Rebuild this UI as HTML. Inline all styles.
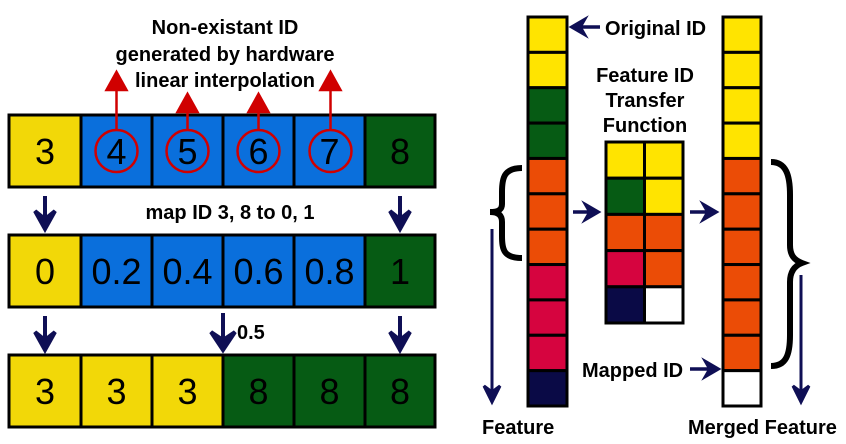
<!DOCTYPE html>
<html><head><meta charset="utf-8"><style>
html,body{margin:0;padding:0;background:#fff;width:846px;height:444px;overflow:hidden}
svg{display:block;font-family:"Liberation Sans",sans-serif}
.lbl{font-weight:bold;font-size:20px;fill:#000}
.num{font-size:36px;fill:#000}
</style></head><body>
<svg width="846" height="444" viewBox="0 0 846 444">
<g id="left"></g>
<g id="right"></g>
<g>
<text class="lbl" x="225" y="34" text-anchor="middle">Non-existant ID</text>
<text class="lbl" x="225" y="61" text-anchor="middle">generated by hardware</text>
<text class="lbl" x="225" y="87" text-anchor="middle">linear interpolation</text>
</g>
<text class="lbl" x="230" y="219" text-anchor="middle">map ID 3, 8 to 0, 1</text>
<text class="lbl" x="237" y="339">0.5</text>
<text class="lbl" x="605" y="35">Original ID</text>
<g>
<text class="lbl" x="645" y="82" text-anchor="middle">Feature ID</text>
<text class="lbl" x="645" y="107" text-anchor="middle">Transfer</text>
<text class="lbl" x="645" y="132" text-anchor="middle">Function</text>
</g>
<text class="lbl" x="582" y="377">Mapped ID</text>
<text class="lbl" x="482" y="434">Feature</text>
<text class="lbl" x="688" y="434">Merged Feature</text>
<path d="M522,168 C504,168 502,178 502,192 L502,204 C502,210 498,212 490,212 C498,212 502,215 502,222 L502,236 C502,250 504,258 522,258" fill="none" stroke="#000" stroke-width="6"/>
<path d="M771,162 C786,162 790,175 790,195 L790,245 C790,255 794,260 802,263 C794,266 790,272 790,282 L790,335 C790,355 786,366 771,366" fill="none" stroke="#000" stroke-width="6"/>
</svg>
<script>
const svg=document.querySelector('svg');
const NS='http://www.w3.org/2000/svg';
function mk(tag,attrs,parent){const e=document.createElementNS(NS,tag);for(const k in attrs)e.setAttribute(k,attrs[k]);(parent||svg).appendChild(e);return e;}
const C={Y:'#f2d808',B:'#0a6fdc',G:'#065b14',O:'#eb4c06',R:'#d6043f',N:'#0a0a46',W:'#ffffff',YY:'#ffe400'};
const row1Labels=['3','4','5','6','7','8'];
const row1Colors=['Y','B','B','B','B','G'];
const row2Labels=['0','0.2','0.4','0.6','0.8','1'];
const row3Labels=['3','3','3','8','8','8'];
const row3Colors=['Y','Y','Y','G','G','G'];
const xs=[9,81,152,223,294,365,435];
const rowY=[115,235,355];
const left=document.getElementById('left');
function row(labels,colors,y,name){
 for(let i=0;i<6;i++){
  const r=mk('rect',{x:xs[i],y:y,width:xs[i+1]-xs[i],height:72,fill:C[colors[i]],stroke:'#000','stroke-width':3},left);
  
  
  const t=mk('text',{x:(xs[i]+xs[i+1])/2,y:y+49,'text-anchor':'middle',class:'num'},left);
  t.textContent=labels[i];
  
  
 }
}
row(row1Labels,row1Colors,rowY[0],'id-row');
row(row2Labels,row1Colors,rowY[1],'mapped-row');
row(row3Labels,row3Colors,rowY[2],'result-row');
const tips=[72,94,94,72];
for(let i=1;i<=4;i++){
 const cx=(xs[i]+xs[i+1])/2+(i===4?1:0);
 const c=mk('circle',{cx:cx,cy:151,r:21,fill:'none',stroke:'#d00000','stroke-width':2.5});
 
 
 const t=tips[i-1];
 const l=mk('path',{d:`M${cx},130 L${cx},${t+10} M${cx-10},${t+18} L${cx},${t} L${cx+10},${t+18} Z`,stroke:'#d00000','stroke-width':2.5,fill:'#d00000'});
 
 
}
function down(x,y1,y2,w,name){
 const g=mk('path',{d:`M${x},${y1} L${x},${y2-12} M${x-w},${y2-18} L${x},${y2} L${x+w},${y2-18} L${x},${y2-10} Z`,stroke:'#0f0f55','stroke-width':4,fill:'#0f0f55'});
 
 
}
down(45,196,229,10,'down-arrow-left-1');
down(400,196,229,10,'down-arrow-right-1');
down(45,316,350,10,'down-arrow-left-2');
down(223,313,350,12,'down-arrow-mid-2');
down(400,316,350,10,'down-arrow-right-2');
const featureColors=['YY','YY','G','G','O','O','O','R','R','R','N'];
const mergedColors=['YY','YY','YY','YY','O','O','O','O','O','O','W'];
const tfColors=[['YY','YY'],['G','YY'],['O','O'],['R','O'],['N','W']];
const right=document.getElementById('right');
const colTop=17,cellH=(406-17)/11;
featureColors.forEach((c,i)=>{const r=mk('rect',{x:528,y:colTop+i*cellH,width:39,height:cellH,fill:C[c],stroke:'#000','stroke-width':3},right);
 
 });
mergedColors.forEach((c,i)=>{const r=mk('rect',{x:723,y:colTop+i*cellH,width:38,height:cellH,fill:C[c],stroke:'#000','stroke-width':3},right);
 
 });
tfColors.forEach((rw,j)=>rw.forEach((c,k)=>{const r=mk('rect',{x:606+k*38.5,y:142+j*36.2,width:38.5,height:36.2,fill:C[c],stroke:'#000','stroke-width':3},right);
 
 }));
function hArrow(x1,x2,y,name){
 const dir=x2>x1?1:-1;
 const p=mk('path',{d:`M${x1},${y} L${x2-dir*8},${y} M${x2-dir*12},${y-7} L${x2},${y} L${x2-dir*12},${y+7} L${x2-dir*8},${y} Z`,stroke:'#0f0f55','stroke-width':3.5,fill:'#0f0f55'});
 
 
}
hArrow(600,572,27,'original-id-arrow');
hArrow(573,598,212,'to-transfer-arrow');
hArrow(690,716,212,'from-transfer-arrow');
hArrow(690,718,369,'mapped-id-arrow');
function vArrow(x,y1,y2,name){
 const p=mk('path',{d:`M${x},${y1} L${x},${y2-8} M${x-8},${y2-16} L${x},${y2} L${x+8},${y2-16} L${x},${y2-10} Z`,stroke:'#0f0f55','stroke-width':3,fill:'#0f0f55'});
 
 
}
vArrow(492,229,402,'feature-direction-arrow');
vArrow(801,275,402,'merged-direction-arrow');
</script>
</body></html>
